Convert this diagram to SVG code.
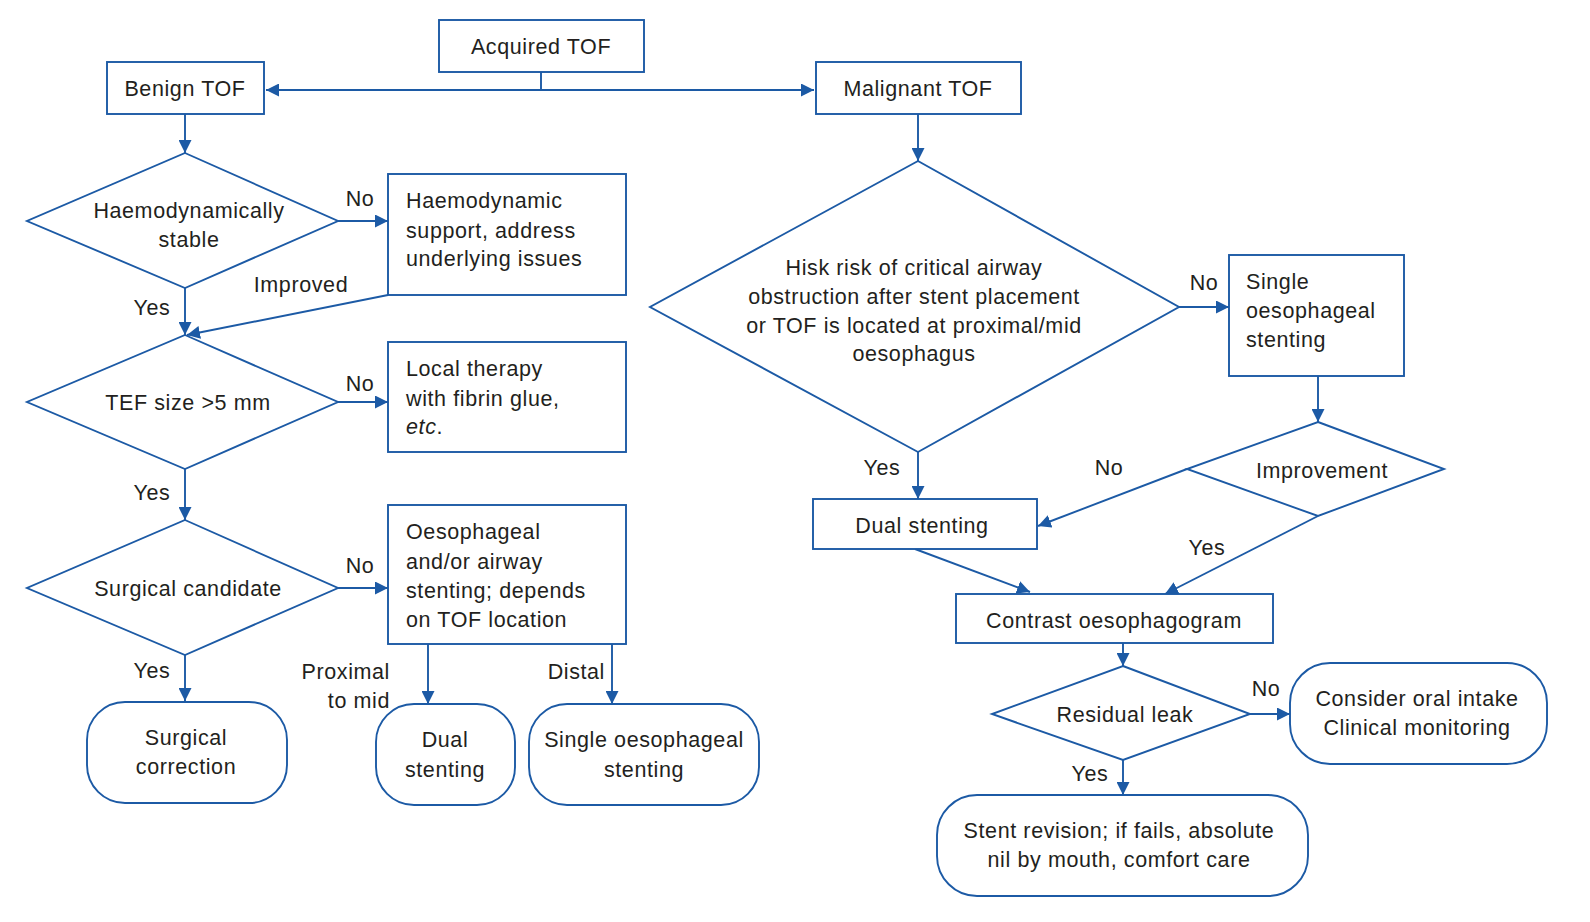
<svg xmlns="http://www.w3.org/2000/svg" width="1590" height="922" viewBox="0 0 1590 922">
<style>
.s{fill:#fff;stroke:#1c5aa5;stroke-width:1.9}
.c{fill:none;stroke:#1c5aa5;stroke-width:1.9}
text{font-family:"Liberation Sans",Arial,sans-serif;font-size:21.5px;fill:#231f20;letter-spacing:0.6px}
.m{text-anchor:middle}
.e{text-anchor:end}
</style>
<defs>
<marker id="a" viewBox="0 0 13 13" refX="13" refY="6.5" markerWidth="13" markerHeight="13" markerUnits="userSpaceOnUse" orient="auto-start-reverse">
<path d="M0,0 L13,6.5 L0,13 z" fill="#1c5aa5"/>
</marker>
</defs>
<rect width="1590" height="922" fill="#fff"/>
<g id="connectors">
<polyline class="c" points="541,72 541,90"/>
<line class="c" x1="266" y1="90" x2="814" y2="90" marker-start="url(#a)" marker-end="url(#a)"/>
<line class="c" x1="185" y1="114" x2="185" y2="153" marker-end="url(#a)"/>
<line class="c" x1="338" y1="221" x2="388" y2="221" marker-end="url(#a)"/>
<line class="c" x1="388" y1="295" x2="187" y2="335" marker-end="url(#a)"/>
<line class="c" x1="185" y1="288" x2="185" y2="335" marker-end="url(#a)"/>
<line class="c" x1="338" y1="402" x2="388" y2="402" marker-end="url(#a)"/>
<line class="c" x1="185" y1="469" x2="185" y2="520" marker-end="url(#a)"/>
<line class="c" x1="338" y1="588" x2="388" y2="588" marker-end="url(#a)"/>
<line class="c" x1="185" y1="655" x2="185" y2="701" marker-end="url(#a)"/>
<line class="c" x1="428" y1="644" x2="428" y2="704" marker-end="url(#a)"/>
<line class="c" x1="612" y1="644" x2="612" y2="704" marker-end="url(#a)"/>
<line class="c" x1="918" y1="114" x2="918" y2="161" marker-end="url(#a)"/>
<line class="c" x1="1179" y1="307" x2="1229" y2="307" marker-end="url(#a)"/>
<line class="c" x1="1318" y1="376" x2="1318" y2="422" marker-end="url(#a)"/>
<line class="c" x1="918" y1="452" x2="918" y2="499" marker-end="url(#a)"/>
<line class="c" x1="1187" y1="469" x2="1038" y2="526" marker-end="url(#a)"/>
<line class="c" x1="1318" y1="516" x2="1165" y2="594" marker-end="url(#a)"/>
<line class="c" x1="915" y1="549" x2="1030" y2="592" marker-end="url(#a)"/>
<line class="c" x1="1123" y1="643" x2="1123" y2="666" marker-end="url(#a)"/>
<line class="c" x1="1250" y1="714" x2="1290" y2="714" marker-end="url(#a)"/>
<line class="c" x1="1123" y1="760" x2="1123" y2="795" marker-end="url(#a)"/>
</g>
<g id="labels">
<text x="360" y="206" class="m">No</text>
<text x="301" y="292" class="m">Improved</text>
<text x="152" y="315" class="m">Yes</text>
<text x="360" y="391" class="m">No</text>
<text x="152" y="500" class="m">Yes</text>
<text x="360" y="573" class="m">No</text>
<text x="152" y="678" class="m">Yes</text>
<text x="390" y="679" class="e">Proximal</text>
<text x="390" y="708" class="e">to mid</text>
<text x="605" y="679" class="e">Distal</text>
<text x="1204" y="290" class="m">No</text>
<text x="882" y="475" class="m">Yes</text>
<text x="1109" y="475" class="m">No</text>
<text x="1207" y="555" class="m">Yes</text>
<text x="1266" y="696" class="m">No</text>
<text x="1090" y="781" class="m">Yes</text>
</g>
<g id="acquired">
<rect class="s" x="439" y="20" width="205" height="52"/>
<text x="541" y="54" class="m">Acquired TOF</text>
</g>
<g id="benign">
<rect class="s" x="107" y="62" width="157" height="52"/>
<text x="185" y="96" class="m">Benign TOF</text>
</g>
<g id="malignant">
<rect class="s" x="816" y="62" width="205" height="52"/>
<text x="918" y="96" class="m">Malignant TOF</text>
</g>
<g id="d-haemo">
<polygon class="s" points="185,153 338,221 185,288 27,221"/>
<text x="189" y="218" class="m">Haemodynamically</text>
<text x="189" y="247" class="m">stable</text>
</g>
<g id="b-support">
<rect class="s" x="388" y="174" width="238" height="121"/>
<text x="406" y="208">Haemodynamic</text>
<text x="406" y="238">support, address</text>
<text x="406" y="266">underlying issues</text>
</g>
<g id="d-tef">
<polygon class="s" points="185,335 338,402 185,469 27,402"/>
<text x="188" y="410" class="m">TEF size &gt;5 mm</text>
</g>
<g id="b-local">
<rect class="s" x="388" y="342" width="238" height="110"/>
<text x="406" y="376">Local therapy</text>
<text x="406" y="406">with fibrin glue,</text>
<text x="406" y="434"><tspan font-style="italic">etc</tspan>.</text>
</g>
<g id="d-surgical">
<polygon class="s" points="185,520 338,588 185,655 27,588"/>
<text x="188" y="596" class="m">Surgical candidate</text>
</g>
<g id="b-stenting">
<rect class="s" x="388" y="505" width="238" height="139"/>
<text x="406" y="539">Oesophageal</text>
<text x="406" y="569">and/or airway</text>
<text x="406" y="598">stenting; depends</text>
<text x="406" y="627">on TOF location</text>
</g>
<g id="t-surgical">
<rect class="s" x="87" y="702" width="200" height="101" rx="38"/>
<text x="186" y="745" class="m">Surgical</text>
<text x="186" y="774" class="m">correction</text>
</g>
<g id="t-dual">
<rect class="s" x="376" y="704" width="139" height="101" rx="38"/>
<text x="445" y="747" class="m">Dual</text>
<text x="445" y="777" class="m">stenting</text>
</g>
<g id="t-single">
<rect class="s" x="529" y="704" width="230" height="101" rx="38"/>
<text x="644" y="747" class="m">Single oesophageal</text>
<text x="644" y="777" class="m">stenting</text>
</g>
<g id="d-risk">
<polygon class="s" points="918,161 1179,307 918,452 650,307"/>
<text x="914" y="275" class="m">Hisk risk of critical airway</text>
<text x="914" y="304" class="m">obstruction after stent placement</text>
<text x="914" y="333" class="m">or TOF is located at proximal/mid</text>
<text x="914" y="361" class="m">oesophagus</text>
</g>
<g id="b-single">
<rect class="s" x="1229" y="255" width="175" height="121"/>
<text x="1246" y="289">Single</text>
<text x="1246" y="318">oesophageal</text>
<text x="1246" y="347">stenting</text>
</g>
<g id="d-improvement">
<polygon class="s" points="1318,422 1444,469 1318,516 1187,469"/>
<text x="1322" y="478" class="m">Improvement</text>
</g>
<g id="b-dual">
<rect class="s" x="813" y="499" width="224" height="50"/>
<text x="922" y="533" class="m">Dual stenting</text>
</g>
<g id="b-contrast">
<rect class="s" x="956" y="594" width="317" height="49"/>
<text x="1114" y="628" class="m">Contrast oesophagogram</text>
</g>
<g id="d-leak">
<polygon class="s" points="1123,666 1250,714 1123,760 992,714"/>
<text x="1125" y="722" class="m">Residual leak</text>
</g>
<g id="t-consider">
<rect class="s" x="1290" y="663" width="257" height="101" rx="40"/>
<text x="1417" y="706" class="m">Consider oral intake</text>
<text x="1417" y="735" class="m">Clinical monitoring</text>
</g>
<g id="t-revision">
<rect class="s" x="937" y="795" width="371" height="101" rx="40"/>
<text x="1119" y="838" class="m">Stent revision; if fails, absolute</text>
<text x="1119" y="867" class="m">nil by mouth, comfort care</text>
</g>
</svg>
